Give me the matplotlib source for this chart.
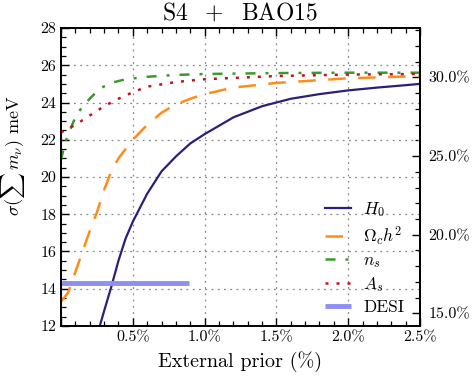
import numpy as np
import matplotlib
matplotlib.use("Agg")
import matplotlib.pyplot as plt
from matplotlib.ticker import MultipleLocator, FixedLocator, FuncFormatter

plt.rcParams['font.family'] = ['cmr10', 'DejaVu Serif']
plt.rcParams['mathtext.fontset'] = 'cm'
plt.rcParams['axes.formatter.use_mathtext'] = True

# ---- data (x in percent, y in meV) ----
h0_x = [0.27, 0.30, 0.35, 0.40, 0.45, 0.50, 0.60, 0.70, 0.80, 0.90, 1.00, 1.20, 1.40, 1.60, 1.80, 2.00, 2.20, 2.40, 2.50]
h0_y = [12.0, 12.8, 14.1, 15.5, 16.7, 17.6, 19.1, 20.3, 21.1, 21.8, 22.3, 23.2, 23.8, 24.2, 24.45, 24.65, 24.8, 24.93, 25.0]

och2_x = [0.0, 0.05, 0.10, 0.15, 0.20, 0.25, 0.30, 0.35, 0.40, 0.50, 0.60, 0.70, 0.80, 0.90, 1.00, 1.20, 1.50, 2.00, 2.50]
och2_y = [13.3, 13.8, 14.9, 16.0, 17.1, 18.1, 19.3, 20.3, 21.0, 22.0, 22.8, 23.45, 23.9, 24.2, 24.45, 24.8, 25.05, 25.3, 25.42]

ns_x = [0.0, 0.02, 0.05, 0.10, 0.15, 0.20, 0.27, 0.35, 0.45, 0.60, 0.80, 1.00, 1.50, 2.00, 2.50]
ns_y = [20.9, 21.6, 22.3, 23.2, 23.8, 24.2, 24.75, 25.05, 25.25, 25.38, 25.48, 25.53, 25.58, 25.6, 25.6]

as_x = [0.0, 0.10, 0.20, 0.30, 0.40, 0.50, 0.60, 0.80, 1.00, 1.50, 2.00, 2.50]
as_y = [22.4, 22.8, 23.3, 23.8, 24.2, 24.55, 24.85, 25.1, 25.25, 25.42, 25.5, 25.53]

desi_x = [0.0, 0.89]
desi_y = [14.3, 14.3]

right_ticks = [15, 20, 25, 30]
rel_scale = 0.845  # meV per percent for the right-hand axis

fig = plt.figure(figsize=(4.74, 3.82), dpi=100)
ax = fig.add_axes([0.1287, 0.1466, 0.7573, 0.7801])

ax.plot(h0_x, h0_y, color='#2b1f7a', lw=1.6, label=r'$H_0$')
ax.plot(och2_x, och2_y, color='#ff8c1a', lw=1.8, dashes=(7, 5), label=r'$\Omega_c h^2$')
ax.plot(ns_x, ns_y, color='#3a9a2a', lw=1.8, dashes=(4, 4, 1.2, 4), label=r'$n_s$')
ax.plot(as_x, as_y, color='#c0141e', lw=1.8, dashes=(1.2, 3.2), label=r'$A_s$')
ax.plot(desi_x, desi_y, color='#8f8ff2', lw=3.5, solid_capstyle='butt', label='DESI')

ax.set_xlim(0, 2.5)
ax.set_ylim(12, 28)
ax.xaxis.set_major_locator(MultipleLocator(0.5))
ax.xaxis.set_minor_locator(MultipleLocator(0.1))
ax.yaxis.set_major_locator(MultipleLocator(2))
ax.yaxis.set_minor_locator(MultipleLocator(0.5))
ax.xaxis.set_major_formatter(FuncFormatter(lambda v, p: '' if v == 0 else f'{v:.1f}%'))
ax.yaxis.set_major_formatter(FuncFormatter(lambda v, p: f'{v:.0f}'))
ax.tick_params(which='both', direction='in', top=True, right=False, labelsize=11.5)
ax.tick_params(which='major', length=6, width=1.0)
ax.tick_params(which='minor', length=3.5, width=0.9)
ax.grid(True, which='major', color='#888888', linestyle=(0, (1.5, 3.5)), lw=0.9)
for s in ax.spines.values():
    s.set_linewidth(1.4)

sec = ax.secondary_yaxis('right', functions=(lambda y: y / rel_scale, lambda p: p * rel_scale))
sec.yaxis.set_major_locator(FixedLocator(right_ticks))
sec.yaxis.set_minor_locator(FixedLocator(list(range(15, 34))))
sec.yaxis.set_major_formatter(FuncFormatter(lambda v, p: f'{v:.1f}%'))
sec.tick_params(which='both', direction='in', labelsize=11.5)
sec.tick_params(which='major', length=6, width=1.0, pad=6)
sec.tick_params(which='minor', length=3.5, width=0.9)
sec.spines['right'].set_linewidth(1.4)

ax.set_title(r'$\mathrm{S4\ \ +\ \ BAO15}$', fontsize=17, pad=6)
ax.set_xlabel('External prior (%)', fontsize=14.5, labelpad=5)
ax.set_ylabel(r'$\sigma(\sum\, m_\nu)$ meV', fontsize=13)
ax.yaxis.set_label_coords(-0.095, 0.57)

leg = ax.legend(loc='lower right', frameon=False, fontsize=12.5, handlelength=1.5,
                handletextpad=0.7, labelspacing=0.3, bbox_to_anchor=(1.0, -0.015))

fig.savefig('out.png', dpi=100)
